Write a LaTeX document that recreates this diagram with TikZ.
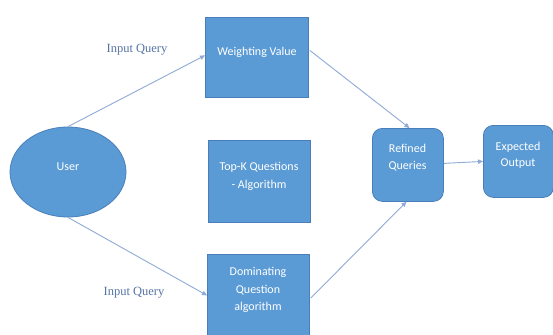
\documentclass[tikz,border=0pt]{standalone}
\usepackage{fontspec}
\setmainfont{Liberation Serif}
\newfontfamily\boxfont{Carlito}
\usetikzlibrary{arrows.meta,shapes.geometric,calc}
\definecolor{boxblue}{HTML}{5B9BD5}
\definecolor{boxedge}{HTML}{4A7EBB}
\definecolor{linkblue}{HTML}{8FAAD6}
\definecolor{labelblue}{HTML}{5674A4}
\tikzset{
  shapebox/.style={draw=boxedge, line width=0.8pt, fill=boxblue, inner sep=0pt},
  procbox/.style={shapebox, anchor=north west},
  roundbox/.style={procbox, rounded corners=10pt},
  boxtext/.style={text=white, font=\boxfont\fontsize{12}{#1}\selectfont, align=center},
  boxtext/.default=16,
  link/.style={draw=linkblue, line width=0.9pt,
    -{Triangle[length=5pt,width=4.5pt]}},
  qlabel/.style={text=labelblue, font=\fontsize{12.5}{15}\selectfont}
}
\begin{document}
\begin{tikzpicture}[x=1pt,y=-1pt]
\useasboundingbox (0,0) rectangle (553,334);
\fill[white] (0,0) rectangle (553,334);
\clip (0,0) rectangle (553,334);

% user ellipse
\node[shapebox, ellipse, minimum width=116, minimum height=90] (user) at (68,172) {};
\node[boxtext] (usertext) at (68,167) {User};

% processing boxes
\node[procbox, minimum width=103, minimum height=80] (wv) at (205,17) {};
\node[boxtext] (wvtext) at (257,52) {Weighting Value};

\node[procbox, minimum width=102, minimum height=82] (topk) at (208,140) {};
\node[boxtext=18] (topktext) at (259,176) {Top-K Questions\\- Algorithm};

\node[procbox, minimum width=102, minimum height=100] (dom) at (207,254) {};
\node[boxtext=17.5] (domtext) at (258,290) {Dominating\\Question\\algorithm};

\node[roundbox, minimum width=71, minimum height=73] (ref) at (372,128) {};
\node[boxtext=17] (reftext) at (407.5,158) {Refined\\Queries};

\node[roundbox, minimum width=70, minimum height=72] (exp) at (483,125) {};
\node[boxtext=16] (exptext) at (518,155) {Expected\\Output};

% connectors
\draw[link] (user.north) -- ($(wv.west)+(0,-2)$);
\draw[link] (user.south) -- ($(dom.west)+(0,-9)$);
\draw[link] ($(wv.east)+(1,-7)$) -- ($(ref.north)+(1.5,0)$);
\draw[link] ($(dom.north east)+(1,44)$) -- ($(ref.south)+(-1.5,0)$);
\draw[link] ($(ref.east)+(0,-1.5)$) -- ($(exp.west)+(0,0)$);

% edge labels
\node[qlabel] (q1) at (137,50) {Input Query};
\node[qlabel] (q2) at (134,293) {Input Query};
\end{tikzpicture}
\end{document}
